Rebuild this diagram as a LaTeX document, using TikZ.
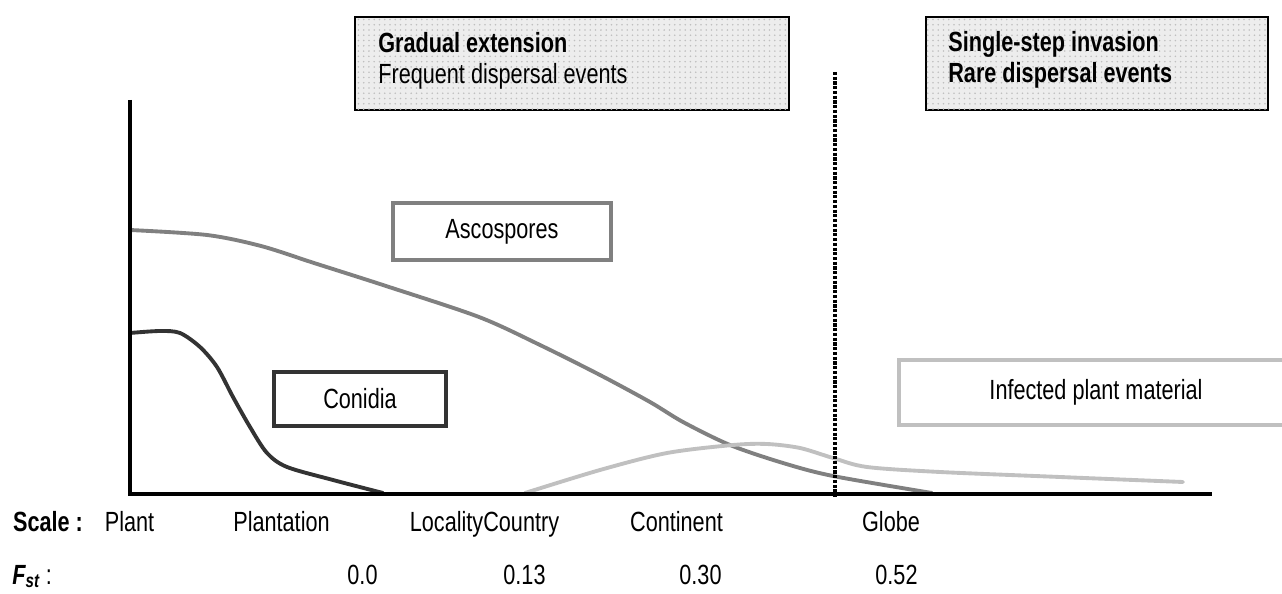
\documentclass[tikz,border=0pt]{standalone}
\usepackage{fontspec}
\setmainfont{Liberation Sans}[FakeStretch=0.78]
\usetikzlibrary{patterns}
\definecolor{ascogray}{RGB}{128,128,128}
\definecolor{conidark}{RGB}{51,51,51}
\definecolor{infectlight}{RGB}{192,192,192}

\begin{document}
\begin{tikzpicture}[x=0.02cm,y=-0.02cm,
		font=\fontsize{15.8}{17.8}\selectfont,
		every node/.style={inner sep=0pt},
		topbox/.style={draw=black,line width=1.1pt,fill=black!7,
			postaction={pattern=dots,pattern color=black!25}},
		sporebox/.style={line width=2.3pt,fill=white},
		curve/.style={line width=2.2pt,line cap=round},
		lbl/.style={anchor=base}]
	\useasboundingbox (0,0) rectangle (1282,594);
	% curves
	\draw[curve,ascogray] plot[smooth] coordinates {(130,230) (207,235) (261,246) (314,263)
		(386,286) (479,317) (540,345) (600,375) (650,402) (683,422) (730,445) (783,463) (833,476) (932,493)};
	\draw[curve,conidark] plot[smooth] coordinates {(130,333) (160,331) (180,333) (200,347)
		(217,367) (233,397) (250,427) (267,453) (287,467) (333,480) (383,493)};
	\draw[curve,infectlight] plot[smooth] coordinates {(525,493) (600,470) (667,453) (733,445)
		(767,444) (800,448) (833,458) (867,467) (940,472) (1060,477) (1183,482)};
	% axes
	\coordinate (origin) at (130,494);
	\coordinate (ytop) at (130,100);
	\coordinate (xend) at (1212,494);
	\draw[line width=2pt] (ytop) -- (origin) -- (xend);
	\coordinate (dtop) at (835,72);
	\coordinate (dbot) at (835,498);
	\draw[line width=1.9pt,dash pattern=on 1.8pt off 0.9pt] (dtop) -- (dbot);
	% boxes
	\node (gradual) [topbox,minimum width=8.68cm,minimum height=1.86cm] at (572,63.5) {};
	\node (gradtxt) [anchor=base west,align=left] at (378,84)
		{\textbf{Gradual extension}\\Frequent dispersal events};
	\node (single) [topbox,minimum width=6.84cm,minimum height=1.86cm] at (1097,63.5) {};
	\node (singtxt) [anchor=base west,align=left] at (948,83)
		{\textbf{Single-step invasion}\\\textbf{Rare dispersal events}};
	\node (asco) [sporebox,draw=ascogray,minimum width=4.36cm,minimum height=1.14cm] at (502,231.5) {Ascospores};
	\node (conidia) [sporebox,draw=conidark,minimum width=3.44cm,minimum height=1.08cm] at (360,399) {Conidia};
	\node (infected) [sporebox,draw=infectlight,minimum width=7.88cm,minimum height=1.3cm] at (1096,392.5) {Infected plant material};
	% scale row
	\node (scale) [lbl] at (48,532) {\textbf{Scale :}};
	\node (plant) [lbl] at (129.5,532) {Plant};
	\node (plantation) [lbl] at (281.5,532) {Plantation};
	\node (locality) [lbl] at (484.5,532) {LocalityCountry};
	\node (continent) [lbl] at (676.5,532) {Continent};
	\node (globe) [lbl] at (891,532) {Globe};
	% Fst row
	\node (fst) [anchor=base west] at (12,584) {\textbf{\textit{F\textsubscript{st}}} :};
	\node (fstA) [lbl] at (362.5,584) {0.0};
	\node (fstB) [lbl] at (524.5,584) {0.13};
	\node (fstC) [lbl] at (700.5,584) {0.30};
	\node (fstD) [lbl] at (896.5,584) {0.52};
\end{tikzpicture}
\end{document}
